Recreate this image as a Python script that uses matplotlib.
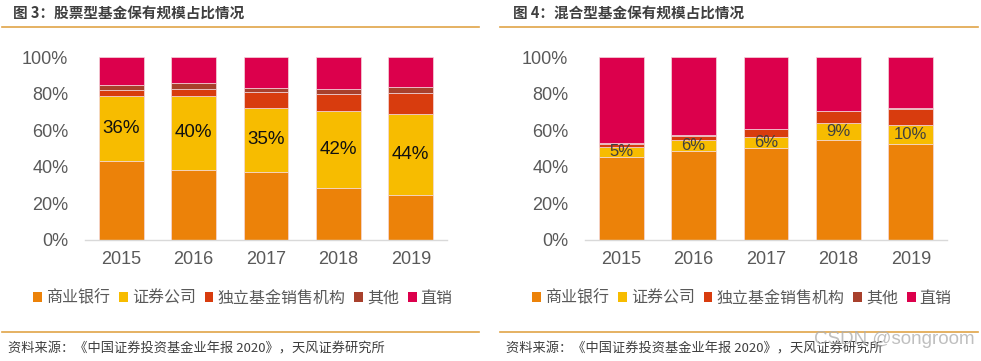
import matplotlib
matplotlib.use("Agg")
import matplotlib.pyplot as plt
from matplotlib.patches import Patch
from matplotlib.lines import Line2D
import numpy as np

plt.rcParams['font.family'] = ['Noto Sans CJK SC', 'DejaVu Sans']

years = ['2015', '2016', '2017', '2018', '2019']
series_names = ['商业银行', '证券公司', '独立基金销售机构', '其他', '直销']
colors = ['#EC8209', '#F7BC00', '#D83C0E', '#A8402C', '#DC004C']

# 图3 股票型基金
stock_bank = [42.9, 38.5, 37.4, 28.3, 24.8]
stock_sec = [36, 40, 35, 42, 44]
stock_indep = [3.3, 3.8, 8.5, 9.4, 11.3]
stock_other = [2.6, 3.3, 1.9, 2.8, 3.3]
stock_direct = [15.2, 14.4, 17.2, 17.5, 16.6]
stock_labels = ['36%', '40%', '35%', '42%', '44%']

# 图4 混合型基金
mix_bank = [45.6, 48.7, 50.4, 54.7, 52.7]
mix_sec = [5, 6, 6, 9, 10]
mix_indep = [2.0, 2.4, 4.2, 6.6, 9.1]
mix_other = [0.3, 0.3, 0.3, 0.3, 0.3]
mix_direct = [47.1, 42.6, 39.1, 29.4, 27.9]
mix_labels = ['5%', '6%', '6%', '9%', '10%']

titles = ['图 3：股票型基金保有规模占比情况', '图 4：混合型基金保有规模占比情况']
source = '资料来源：《中国证券投资基金业年报 2020》，天风证券研究所'

W, H = 981, 361
fig = plt.figure(figsize=(W / 100, H / 100), dpi=100)
gray = '#595959'
line_col = '#E0A448'


def px(x0, y0, x1, y1):
    return [x0 / W, 1 - y1 / H, (x1 - x0) / W, (y1 - y0) / H]


def draw(ax, data, labels, lab_size, lab_color):
    x = np.arange(len(years))
    bottom = np.zeros(len(years))
    mids = None
    for i, vals in enumerate(data):
        v = np.array(vals, dtype=float) / 100.0
        ax.bar(x, v, 0.62, bottom=bottom, color=colors[i],
               edgecolor='#F4D8DC', linewidth=0.5, zorder=2)
        if i == 1:
            mids = bottom + v / 2
        bottom = bottom + v
    for xi, m, t in zip(x, mids, labels):
        ax.text(xi, m, t, ha='center', va='center', fontsize=lab_size,
                color=lab_color, family=['Liberation Sans', 'DejaVu Sans'])
    ax.set_xlim(-0.5, 4.5)
    ax.set_ylim(0, 1)
    ax.set_yticks(np.linspace(0, 1, 6))
    ax.set_yticklabels([f'{int(round(t * 100))}%' for t in np.linspace(0, 1, 6)])
    ax.set_xticks(x)
    ax.set_xticklabels(years)
    for s in ['top', 'right', 'left']:
        ax.spines[s].set_visible(False)
    ax.spines['bottom'].set_color('#D9D9D9')
    ax.spines['bottom'].set_linewidth(1.0)
    ax.tick_params(axis='both', length=0, labelsize=13, labelcolor=gray)
    ax.tick_params(axis='y', pad=12)
    ax.tick_params(axis='x', pad=8)
    for lbl in ax.get_xticklabels() + ax.get_yticklabels():
        lbl.set_family(['Liberation Sans', 'DejaVu Sans'])


ax1 = fig.add_axes(px(85, 57, 447, 240))
draw(ax1, [stock_bank, stock_sec, stock_indep, stock_other, stock_direct],
     stock_labels, 13.5, '#111111')
ax2 = fig.add_axes(px(585, 57, 947, 240))
draw(ax2, [mix_bank, mix_sec, mix_indep, mix_other, mix_direct],
     mix_labels, 12, '#404040')

# titles and lines
for (x0, x1, tx), title in zip([(2, 479, 13), (500, 978, 513)], titles):
    fig.text(tx / W, 1 - 13 / H, title, fontsize=10.5, fontweight='bold',
             color='#3F3F3F', ha='left', va='center')
    fig.add_artist(Line2D([x0 / W, x1 / W], [1 - 27 / H] * 2,
                          color=line_col, linewidth=1.2))
    fig.add_artist(Line2D([x0 / W, x1 / W], [1 - 332 / H] * 2,
                          color=line_col, linewidth=1.2))
    fig.text((x0 + 6) / W, 1 - 349 / H, source, fontsize=9.5,
             color='#3F3F3F', ha='left', va='center')

# legends
handles = [Patch(facecolor=c, edgecolor='none') for c in colors]
for cx in [243, 742]:
    fig.legend(handles, series_names, loc='center',
               bbox_to_anchor=(cx / W, 1 - 298 / H), ncol=5, frameon=False,
               fontsize=11.5, handlelength=0.55, handleheight=0.55,
               handletextpad=0.25, columnspacing=0.55, labelcolor=gray,
               borderpad=0)

# watermark
fig.text(975 / W, 1 - 340 / H, 'CSDN @songroom', fontsize=13.5,
         color='#B0B0B0', alpha=0.8, ha='right', va='center',
         family=['Liberation Sans', 'DejaVu Sans'])

fig.savefig('out.png', dpi=100, facecolor='white')
